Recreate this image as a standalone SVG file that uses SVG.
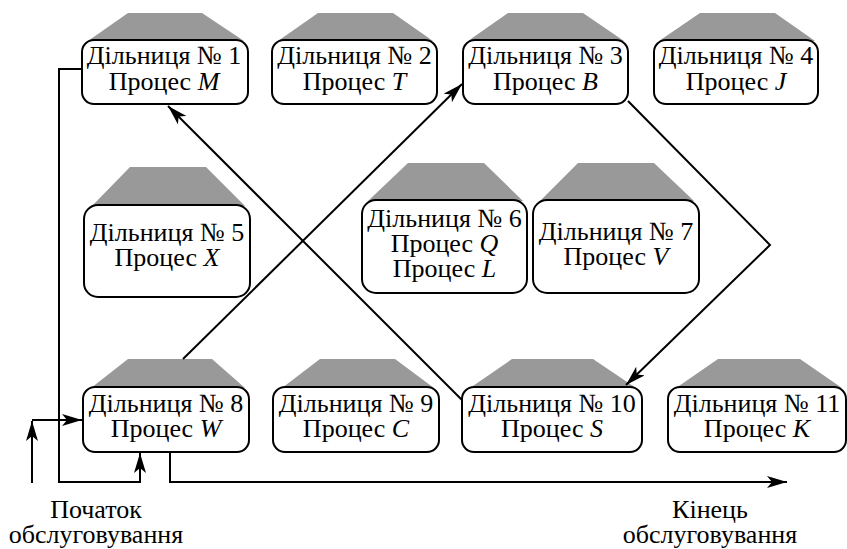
<svg xmlns="http://www.w3.org/2000/svg" width="847" height="549" viewBox="0 0 847 549">
  <style>
    .roof { fill: #999999; stroke: none; }
    .box { fill: #ffffff; stroke: #000000; stroke-width: 2; }
    .lbl { font-family: "Liberation Serif", "Times New Roman", "DejaVu Serif", serif; font-size: 26px; fill: #000000; text-anchor: middle; }
    .it { font-style: italic; }
    .wire { fill: none; stroke: #000000; stroke-width: 2; }
  </style>
  <defs>
    <marker id="arrow" viewBox="0 0 20 12" refX="20" refY="6" markerWidth="20" markerHeight="12" markerUnits="userSpaceOnUse" orient="auto">
      <path d="M0,0 L20,6 L0,12 L5,6 Z" fill="#000000"/>
    </marker>
  </defs>

  <!-- Row 1 -->
  <g id="node1">
    <polygon class="roof" points="128,13 202,13 244,41 88,41"/>
    <rect class="box" x="82" y="40" width="166" height="64" rx="12"/>
    <text class="lbl" x="164" y="64">Дільниця № 1</text>
    <text class="lbl" x="164" y="90">Процес <tspan class="it">M</tspan></text>
  </g>
  <g id="node2">
    <polygon class="roof" points="318,13 393,13 433,41 278,41"/>
    <rect class="box" x="272" y="40" width="165" height="64" rx="12"/>
    <text class="lbl" x="354.5" y="64">Дільниця № 2</text>
    <text class="lbl" x="354.5" y="90">Процес <tspan class="it">T</tspan></text>
  </g>
  <g id="node3">
    <polygon class="roof" points="508,13 583,13 624,41 468,41"/>
    <rect class="box" x="463" y="40" width="165" height="64" rx="12"/>
    <text class="lbl" x="545.5" y="64">Дільниця № 3</text>
    <text class="lbl" x="545.5" y="90">Процес <tspan class="it">B</tspan></text>
  </g>
  <g id="node4">
    <polygon class="roof" points="700,13 775,13 815,41 659,41"/>
    <rect class="box" x="654" y="40" width="164" height="64" rx="12"/>
    <text class="lbl" x="736" y="64">Дільниця № 4</text>
    <text class="lbl" x="736" y="90">Процес <tspan class="it">J</tspan></text>
  </g>

  <!-- Row 2 -->
  <g id="node5">
    <polygon class="roof" points="130,167 206,167 245,206 92,206"/>
    <rect class="box" x="84" y="205" width="166" height="92" rx="14"/>
    <text class="lbl" x="167" y="241">Дільниця № 5</text>
    <text class="lbl" x="167" y="266">Процес <tspan class="it">X</tspan></text>
  </g>
  <g id="node6">
    <polygon class="roof" points="408,163 484,163 523,201 368,201"/>
    <rect class="box" x="362" y="200" width="165" height="93" rx="14"/>
    <text class="lbl" x="444.5" y="227">Дільниця № 6</text>
    <text class="lbl" x="444.5" y="252">Процес <tspan class="it">Q</tspan></text>
    <text class="lbl" x="444.5" y="277">Процес <tspan class="it">L</tspan></text>
  </g>
  <g id="node7">
    <polygon class="roof" points="578,163 654,163 694,201 540,201"/>
    <rect class="box" x="533" y="200" width="166" height="93" rx="14"/>
    <text class="lbl" x="616" y="240">Дільниця № 7</text>
    <text class="lbl" x="616" y="265">Процес <tspan class="it">V</tspan></text>
  </g>

  <!-- Row 3 -->
  <g id="node8">
    <polygon class="roof" points="128,359 212,359 245,388 91,388"/>
    <rect class="box" x="83" y="387" width="166" height="65" rx="12"/>
    <text class="lbl" x="166" y="412">Дільниця № 8</text>
    <text class="lbl" x="166" y="437">Процес <tspan class="it">W</tspan></text>
  </g>
  <g id="node9">
    <polygon class="roof" points="320,359 395,359 434,388 282,388"/>
    <rect class="box" x="273" y="387" width="166" height="65" rx="12"/>
    <text class="lbl" x="356" y="412">Дільниця № 9</text>
    <text class="lbl" x="356" y="437">Процес <tspan class="it">C</tspan></text>
  </g>
  <g id="node10">
    <polygon class="roof" points="512,359 593,359 636,388 470,388"/>
    <rect class="box" x="462" y="387" width="180" height="65" rx="12"/>
    <text class="lbl" x="552" y="412">Дільниця № 10</text>
    <text class="lbl" x="552" y="437">Процес <tspan class="it">S</tspan></text>
  </g>
  <g id="node11">
    <polygon class="roof" points="718,359 800,359 842,388 676,388"/>
    <rect class="box" x="668" y="387" width="178" height="65" rx="12"/>
    <text class="lbl" x="757" y="412">Дільниця № 11</text>
    <text class="lbl" x="757" y="437">Процес <tspan class="it">K</tspan></text>
  </g>

  <!-- Connectors -->
  <g id="connectors">
    <!-- entry from below into node 8 -->
    <path class="wire" d="M32,483 V421" marker-end="url(#arrow)"/>
    <path class="wire" d="M32,420 H82" marker-end="url(#arrow)"/>
    <!-- node 1 loops back down into node 8 -->
    <path class="wire" d="M82,69 H59 V482 H140 V453" marker-end="url(#arrow)"/>
    <!-- node 8 to node 3 -->
    <path class="wire" d="M183,359 L462,84" marker-end="url(#arrow)"/>
    <!-- node 3 to node 10 -->
    <path class="wire" d="M628,101 L770,245 L626,385" marker-end="url(#arrow)"/>
    <!-- node 10 to node 1 -->
    <path class="wire" d="M462,400 L168,106" marker-end="url(#arrow)"/>
    <!-- exit from node 8 -->
    <path class="wire" d="M170,452 V482 H787" marker-end="url(#arrow)"/>
  </g>

  <!-- Start / end labels -->
  <text class="lbl" x="96" y="518">Початок</text>
  <text class="lbl" x="96" y="543">обслуговування</text>
  <text class="lbl" x="710" y="518">Кінець</text>
  <text class="lbl" x="710" y="543">обслуговування</text>
</svg>
